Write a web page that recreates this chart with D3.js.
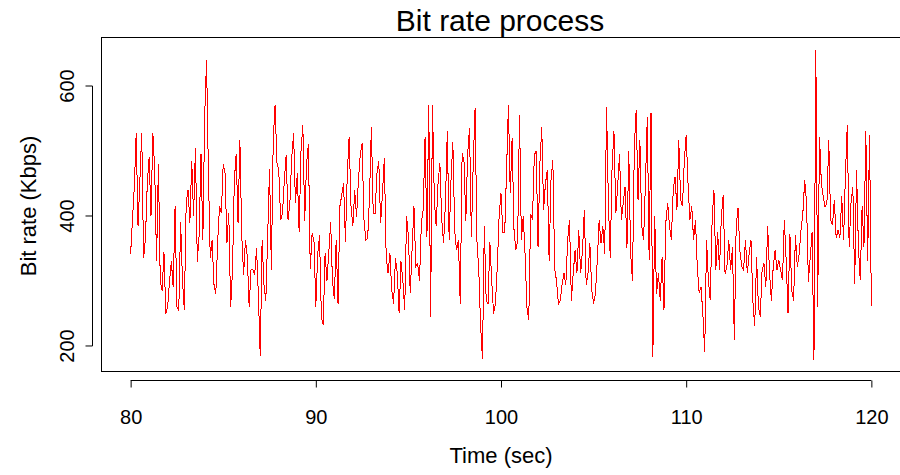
<!DOCTYPE html>
<html>
<head>
<meta charset="utf-8">
<script src="https://cdn.jsdelivr.net/npm/d3@7"></script>
<style>
html, body { margin: 0; padding: 0; background: #fff; }
svg { display: block; }
text { font-family: "Liberation Sans", Arial, Helvetica, sans-serif; fill: #000; }
</style>
</head>
<body>
<svg id="chart" width="900" height="475"></svg>
<script>
// ---- data ----
const title = "Bit rate process";
const xLabel = "Time (sec)";
const yLabel = "Bit rate (Kbps)";
const xTicks = [80, 90, 100, 110, 120];
const yTicks = [200, 400, 600];
const startTime = 80;      // seconds
const sampleStep = 0.1;    // seconds between samples
const bitRate = [
  342, 395, 445, 528, 385, 455, 528, 335, 365, 450,
  490, 400, 528, 470, 330, 480, 300, 285, 345, 250,
  260, 300, 330, 290, 415, 260, 255, 390, 300, 255,
  420, 440, 390, 485, 400, 505,
  330, 370, 496, 363, 555, 640, 465, 335, 363, 295,
  280, 360, 415, 405, 480, 465, 358, 405, 260, 315,
  455, 496, 390, 517, 370, 310, 363, 337, 260, 317,
  317, 310, 350, 276, 184, 363, 295,
  270, 368, 473, 317, 517, 570, 482, 470, 394, 404,
  455, 494, 394, 420, 490, 527, 420, 466, 375, 500,
  540, 393, 481, 510, 318, 373, 363, 260, 340, 370,
  245, 232, 343, 300, 343, 390,
  300, 273, 363, 265, 415, 432, 450, 360, 465, 522,
  415, 384, 440, 398, 455, 494, 512, 394, 363, 366,
  430, 537, 404, 404, 465, 484, 389, 435, 489, 337,
  312, 343, 286, 265, 335, 312, 250,
  330, 300, 255, 400, 368, 281, 350, 415, 322, 327,
  300, 389, 410, 522, 368, 570, 245, 570, 425, 384,
  450, 482, 394, 358, 420, 530, 363, 455, 514, 378,
  347, 363, 265, 496, 486, 393, 496,
  535, 368, 480, 566, 363, 317, 230, 180, 384, 270,
  265, 360, 300, 250, 265, 322, 400, 435, 374, 374,
  470, 570, 435, 520, 380, 347, 363, 555, 363, 400,
  342, 260, 240, 403, 394, 494, 500,
  352, 480, 537, 410, 450, 470, 330, 455, 486, 318,
  300, 265, 270, 295, 312, 294, 363, 394, 270, 312,
  347, 312, 378, 312, 347, 409, 294, 312, 358, 286,
  265, 281, 332, 394, 358, 384,
  342, 568, 420, 335, 478, 530, 404, 445, 496, 394,
  420, 445, 350, 500, 342, 300, 506, 563, 425, 517,
  384, 363, 450, 553, 332, 558, 183, 400, 280, 312,
  270, 337, 255, 390, 420, 384, 363,
  440, 460, 410, 517, 425, 415, 486, 525, 450, 394,
  415, 363, 394, 322, 281, 291, 250, 190, 363, 301,
  270, 394, 440, 317, 376, 317, 400, 432, 311, 322,
  363, 317, 352, 209, 384, 412, 347,
  322, 317, 363, 312, 342, 363, 270, 230, 337, 260,
  245, 317, 327, 291, 384, 312, 270, 322, 347, 317,
  332, 317, 301, 394, 332, 250, 373, 286, 270, 370,
  322, 342, 378, 404, 455, 420,
  299, 337, 376, 178, 655, 260, 522, 450, 430, 414,
  420, 517, 394, 386, 425, 366, 378, 366, 430, 363,
  465, 540, 352, 420, 445, 295, 470, 352, 301, 415,
  352, 530, 330, 525, 262
];
const series = bitRate.map((v, i) => ({ t: startTime + i * sampleStep, v }));

// ---- layout ----
const plot = { left: 101, right: 901, top: 37, bottom: 371 };
const svg = d3.select("#chart");

const x = d3.scaleLinear().domain([78.4, 121.6]).range([plot.left, plot.right]);
const y = d3.scaleLinear().domain([161.5, 675.4]).range([plot.bottom, plot.top]);

// line
const line = d3.line().x(d => x(d.t)).y(d => y(d.v));
svg.append("path")
  .datum(series)
  .attr("d", line)
  .attr("fill", "none")
  .attr("stroke", "#ff0000")
  .attr("stroke-width", 1)
  .attr("shape-rendering", "crispEdges");

// box
svg.append("rect")
  .attr("x", plot.left + 0.5).attr("y", plot.top + 0.5)
  .attr("width", plot.right - plot.left).attr("height", plot.bottom - plot.top)
  .attr("fill", "none").attr("stroke", "#000").attr("stroke-width", 1);

// x axis (offset below box)
const xAxisG = svg.append("g").attr("transform", `translate(0,${plot.bottom + 9.5})`);
xAxisG.call(d3.axisBottom(x).tickValues(xTicks).tickSize(7).tickSizeOuter(0).tickPadding(22));
xAxisG.select(".domain").attr("d", `M${x(80)},0H${x(120)}`);
xAxisG.selectAll("text").style("font-size", "20px").style("font-family", "Liberation Sans, Arial, sans-serif");

// y axis (offset left of box)
const yAxisG = svg.append("g").attr("transform", `translate(${plot.left - 8.5},0)`);
yAxisG.call(d3.axisLeft(y).tickValues(yTicks).tickSize(7).tickSizeOuter(0).tickPadding(0));
yAxisG.select(".domain").attr("d", `M0,${y(200)}V${y(600)}`);
yAxisG.selectAll(".tick").attr("transform", null);
yAxisG.selectAll(".tick line").attr("y1", d => y(d)).attr("y2", d => y(d)).attr("x2", -7);
yAxisG.selectAll(".tick text")
  .style("font-size", "20px").style("font-family", "Liberation Sans, Arial, sans-serif")
  .attr("text-anchor", "middle")
  .attr("x", null).attr("y", null).attr("dy", null)
  .attr("dominant-baseline", "central")
  .attr("transform", d => `translate(-26,${y(d)}) rotate(-90)`);

// title and labels
svg.append("text").attr("x", 500).attr("y", 31).attr("text-anchor", "middle")
  .style("font-size", "30px").text(title);
svg.append("text").attr("x", 501).attr("y", 463).attr("text-anchor", "middle")
  .style("font-size", "22px").text(xLabel);
svg.append("text").attr("transform", `translate(36,206) rotate(-90)`)
  .attr("text-anchor", "middle").style("font-size", "22px").text(yLabel);
</script>
</body>
</html>
